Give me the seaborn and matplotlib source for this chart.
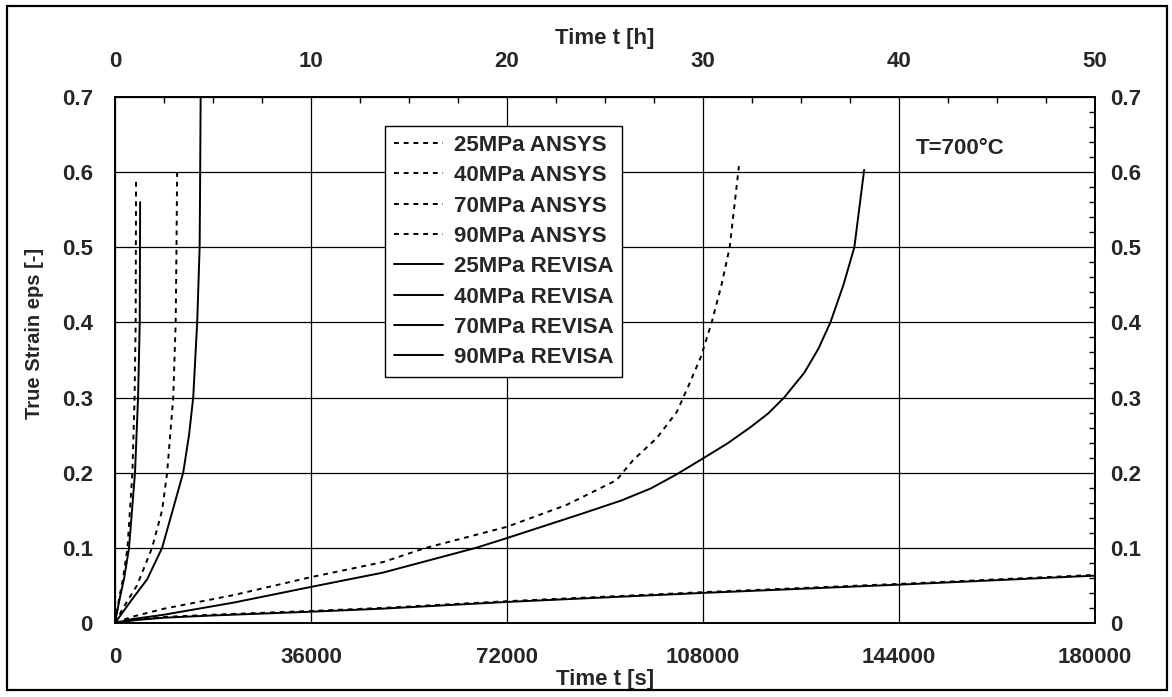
import matplotlib
matplotlib.use("Agg")
import matplotlib.pyplot as plt
from matplotlib.patches import Rectangle
from matplotlib.ticker import MultipleLocator
import seaborn as sns

sns.set_theme(style="white")
plt.rcParams['font.family'] = ['Liberation Sans', 'DejaVu Sans']
plt.rcParams['font.weight'] = 'bold'
plt.rcParams['axes.labelweight'] = 'bold'

# Creep curves at T = 700 °C: time in seconds, true strain [-]
t_25_ansys = [0, 4000, 9000, 18000, 36000, 49000, 72000, 108000, 144000, 180000]
eps_25_ansys = [0, 0.005, 0.008, 0.011, 0.016, 0.020, 0.029, 0.041, 0.052, 0.064]

t_40_ansys = [0, 3000, 9000, 21700, 36000, 49200, 57100, 72000, 82900, 92100,
              95200, 99500, 103200, 105300, 107600, 109600, 111400, 112900, 114600]
eps_40_ansys = [0, 0.008, 0.019, 0.037, 0.061, 0.081, 0.100, 0.128, 0.157, 0.190,
                0.217, 0.246, 0.281, 0.315, 0.354, 0.400, 0.450, 0.500, 0.608]

t_70_ansys = [0, 1500, 4050, 6810, 8660, 9580, 10700, 11150, 11300, 11420]
eps_70_ansys = [0, 0.020, 0.050, 0.100, 0.150, 0.200, 0.300, 0.400, 0.500, 0.606]

t_90_ansys = [0, 700, 1500, 2300, 3200, 3600, 3800, 3870]
eps_90_ansys = [0, 0.030, 0.060, 0.100, 0.200, 0.300, 0.400, 0.593]

t_25_revisa = [0, 4000, 9000, 18000, 36000, 49000, 72000, 108000, 144000, 180000]
eps_25_revisa = [0, 0.004, 0.007, 0.010, 0.015, 0.019, 0.028, 0.040, 0.051, 0.063]

t_40_revisa = [0, 3000, 9000, 21700, 36000, 49200, 66300, 72000, 86000, 93000, 98400,
               103200, 108000, 112500, 116800, 120000, 122900, 126600, 129200, 131400,
               133800, 135800, 137600]
eps_40_revisa = [0, 0.005, 0.011, 0.027, 0.048, 0.067, 0.100, 0.113, 0.146, 0.163, 0.179,
                 0.198, 0.219, 0.239, 0.261, 0.279, 0.300, 0.333, 0.365, 0.400,
                 0.450, 0.500, 0.603]

t_70_revisa = [0, 1500, 3500, 5900, 8660, 10600, 12530, 13600, 14370, 15100, 15550, 15650, 15750]
eps_70_revisa = [0, 0.015, 0.035, 0.058, 0.100, 0.150, 0.200, 0.250, 0.300, 0.400, 0.500, 0.600, 0.720]

t_90_revisa = [0, 800, 1700, 2580, 3680, 4240, 4550, 4620]
eps_90_revisa = [0, 0.030, 0.060, 0.100, 0.200, 0.300, 0.400, 0.560]

series = [
    ("25MPa ANSYS", t_25_ansys, eps_25_ansys, "dash"),
    ("40MPa ANSYS", t_40_ansys, eps_40_ansys, "dash"),
    ("70MPa ANSYS", t_70_ansys, eps_70_ansys, "dash"),
    ("90MPa ANSYS", t_90_ansys, eps_90_ansys, "dash"),
    ("25MPa REVISA", t_25_revisa, eps_25_revisa, "solid"),
    ("40MPa REVISA", t_40_revisa, eps_40_revisa, "solid"),
    ("70MPa REVISA", t_70_revisa, eps_70_revisa, "solid"),
    ("90MPa REVISA", t_90_revisa, eps_90_revisa, "solid"),
]

x_ticks = [0, 36000, 72000, 108000, 144000, 180000]
x_labels = ["0", "36000", "72000", "108000", "144000", "180000"]
h_ticks = [0, 10, 20, 30, 40, 50]
y_ticks = [0, 0.1, 0.2, 0.3, 0.4, 0.5, 0.6, 0.7]
y_labels = ["0", "0.1", "0.2", "0.3", "0.4", "0.5", "0.6", "0.7"]

fig = plt.figure(figsize=(11.72, 6.97), dpi=100)
ax = fig.add_axes([0.0981, 0.1062, 0.8362, 0.7546])

for label, t, eps, kind in series:
    sns.lineplot(x=t, y=eps, ax=ax, color="black", lw=1.4, label=label,
                 sort=False, estimator=None)
    line = ax.get_lines()[-1]
    if kind == "dash":
        line.set_dashes((2.5, 2.5))

ax.set_xlim(0, 180000)
ax.set_ylim(0, 0.7)
ax.set_xticks(x_ticks, x_labels)
ax.set_yticks(y_ticks, y_labels)
ax.xaxis.set_minor_locator(MultipleLocator(9000))
ax.yaxis.set_minor_locator(MultipleLocator(0.02))
ax.grid(True, which="major", color="black", lw=0.9)
ax.tick_params(which="both", direction="in", color="black", labelsize=16)
ax.tick_params(which="major", length=0)
ax.tick_params(which="minor", length=4, width=1)
ax.tick_params(axis="x", pad=17)
ax.tick_params(axis="y", pad=16)
for sp in ax.spines.values():
    sp.set_color("black")
    sp.set_linewidth(1.4)

ax.set_xlabel("Time t [s]", fontsize=16, labelpad=1)
ax.set_ylabel("True Strain eps [-]", fontsize=14.5)
ax.yaxis.set_label_coords(-0.072, 0.55)

top = ax.secondary_xaxis("top", functions=(lambda s: s / 3600.0, lambda h: h * 3600.0))
top.set_xticks(h_ticks, [str(h) for h in h_ticks])
top.xaxis.set_minor_locator(MultipleLocator(2.5))
top.tick_params(which="both", direction="in", color="black", labelsize=16, pad=18)
top.tick_params(which="major", length=0)
top.tick_params(which="minor", length=4, width=1)
top.set_xlabel("Time t [h]", fontsize=16, labelpad=5)

right = ax.secondary_yaxis("right")
right.set_yticks(y_ticks, y_labels)
right.yaxis.set_minor_locator(MultipleLocator(0.02))
right.tick_params(which="both", direction="in", color="black", labelsize=16, pad=11)
right.tick_params(which="major", length=0)
right.tick_params(which="minor", length=4, width=1)

ax.text(147000, 0.632, "T=700°C", fontsize=16, fontweight="bold",
        ha="left", va="center")

leg = ax.legend(loc="upper left", bbox_to_anchor=(0.2755, 0.945), borderaxespad=0,
                frameon=True, fancybox=False, framealpha=1, edgecolor="black",
                fontsize=16, handlelength=2.2, handletextpad=0.5,
                labelspacing=0.42, borderpad=0.4)
leg.get_frame().set_linewidth(1.0)

fig.add_artist(Rectangle((7 / 1172, 1 - 690 / 697), 1160 / 1172, 684 / 697,
                         transform=fig.transFigure, fill=False,
                         edgecolor="black", lw=1.6))

fig.savefig("out.png", dpi=100, facecolor="white")
